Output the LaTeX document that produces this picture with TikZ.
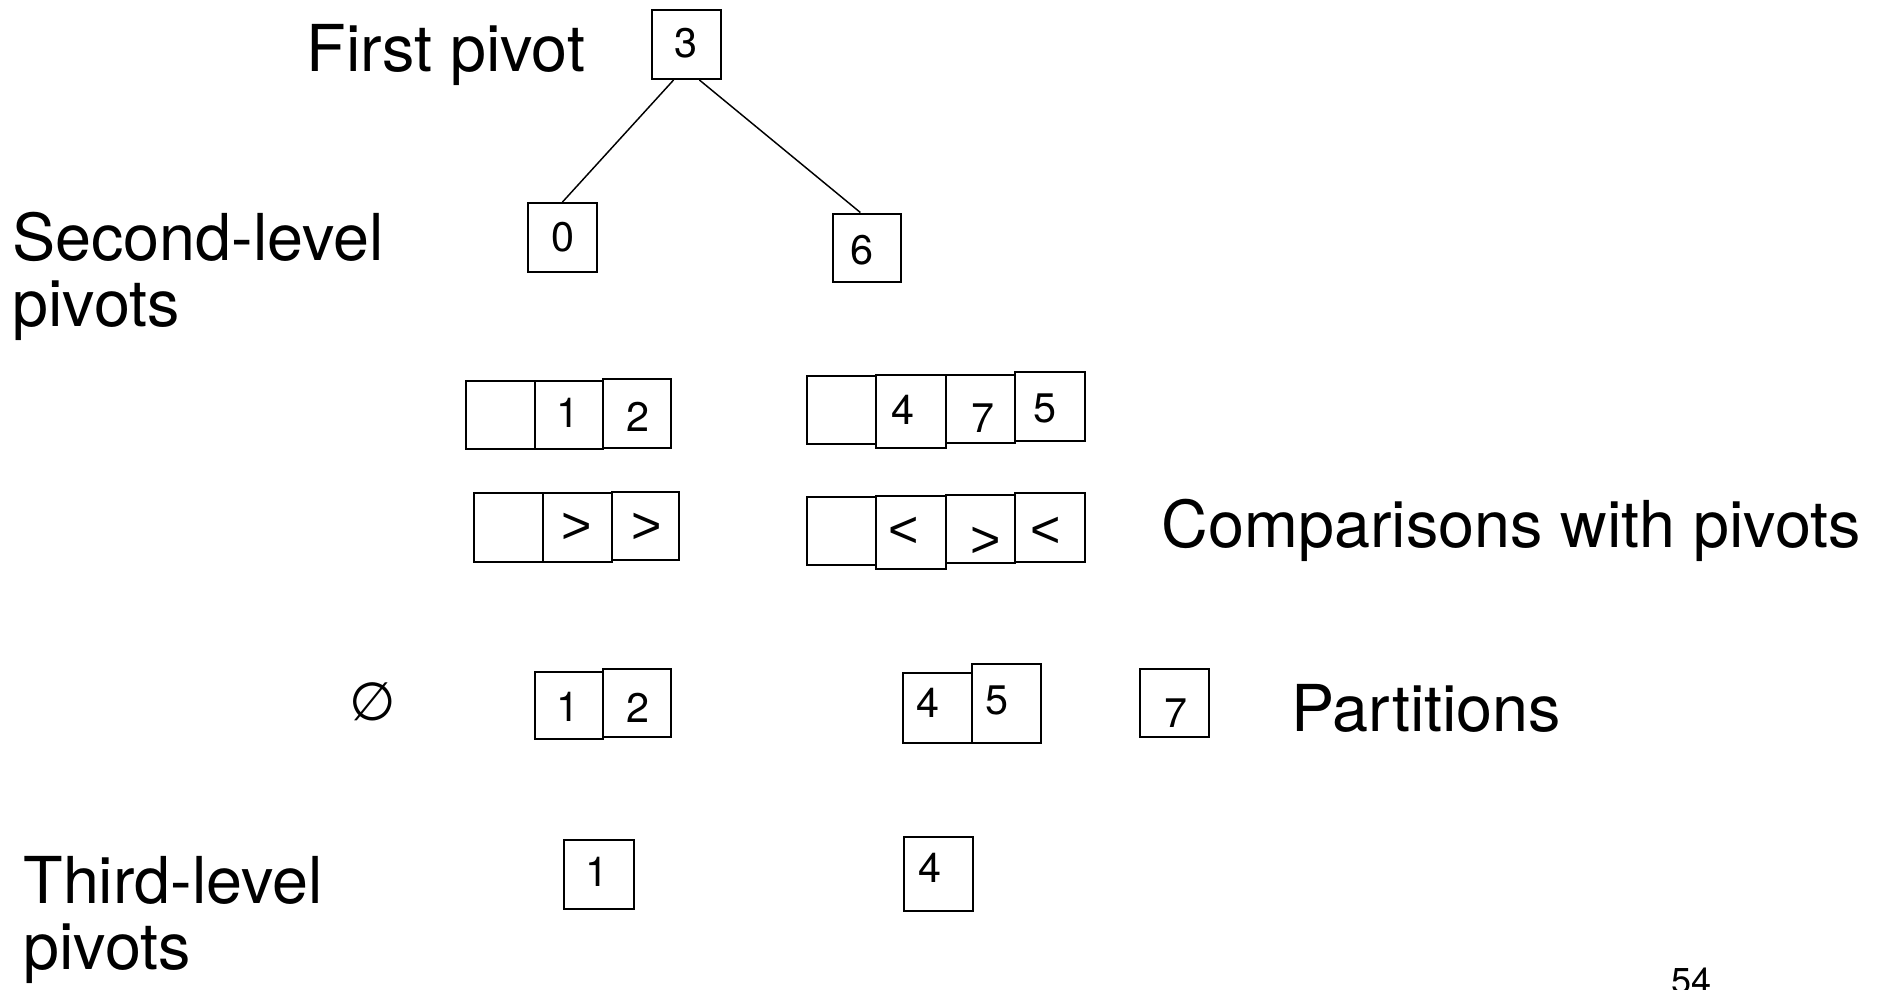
\documentclass[tikz,border=0pt]{standalone}
\usepackage{fontspec}
\setmainfont{TeX Gyre Heros}
\newfontfamily\symfont{DejaVu Sans}
\newfontfamily\relfont{Liberation Sans}

\tikzset{every picture/.style={line width=0.75pt}}
\tikzset{
  cell/.style={draw, line width=1.5pt, inner sep=0pt, minimum width=51.75pt, minimum height=51.75pt},
  num/.style={inner sep=0pt, font=\fontsize{31}{36}\selectfont},
  rel/.style={inner sep=0pt, font=\relfont\fontsize{39}{44}\selectfont},
  caption/.style={anchor=base west, inner sep=0pt, align=left, font=\fontsize{48.5}{49.5}\selectfont}
  ,edge/.style={line width=1.1pt}
}

\begin{document}
\begin{tikzpicture}[x=0.75pt,y=0.75pt,yscale=-1,xscale=1]
\useasboundingbox (0,0) rectangle (1877,989);

%Shape: Square (first pivot)
\node[cell] (p3) at (686.5,44.5) {};
\node[num] (p3t) at (686,43) {3};
%Shape: Square (second level)
\node[cell] (p0) at (562.5,237.5) {};
\node[num] (p0t) at (562.5,237) {0};
\node[cell, minimum width=51pt, minimum height=51pt] (p6) at (866.5,247.5) {};
\node[num] (p6t) at (862,250) {6};

%Straight Lines
\draw[edge] (p3.250) -- (p0.north);
%Straight Lines
\draw[edge] (p3.290) -- (p6.100);

%Shape: Rectangles (left subarray)
\node[cell, minimum height=51pt] (a1) at (500.5,415) {};
\node[cell, minimum width=51pt, minimum height=51pt] (b1) at (569,415) {};
\node[cell, minimum width=51pt] (c1) at (637,413.5) {};
\node[num] (b1t) at (568,413) {1};
\node[num] (c1t) at (638,417) {2};

%Shape: Rectangles (right subarray)
\node[cell, minimum height=51pt] (d1) at (841.5,410) {};
\node[cell, minimum width=52.5pt, minimum height=54.75pt] (e1) at (911,411.5) {};
\node[cell, minimum height=51pt] (f1) at (980.5,409) {};
\node[cell, minimum width=52.5pt] (g1) at (1050,406.5) {};
\node[num] (e1t) at (903,410) {4};
\node[num] (f1t) at (983,418) {7};
\node[num] (g1t) at (1045,408) {5};

%Shape: Rectangles (left comparisons)
\node[cell] (a2) at (508.5,527.5) {};
\node[cell] (b2) at (577.5,527.5) {};
\node[cell, minimum width=50.25pt, minimum height=51pt] (c2) at (645.5,526) {};
\node[rel] (b2t) at (577,528) {>};
\node[rel] (c2t) at (647,528) {>};

%Shape: Rectangles (right comparisons)
\node[cell, minimum height=51pt] (d2) at (841.5,531) {};
\node[cell, minimum width=52.5pt, minimum height=54.75pt] (e2) at (911,532.5) {};
\node[cell, minimum height=51pt] (f2) at (980.5,529) {};
\node[cell, minimum width=52.5pt] (g2) at (1050,527.5) {};
\node[rel] (e2t) at (904,532) {<};
\node[rel] (f2t) at (986,542) {>};
\node[rel] (g2t) at (1046,532) {<};

% Text Node
\node[inner sep=0pt, font=\symfont\fontsize{40}{44}\selectfont] (empty) at (373,701.5) {∅};

%Shape: Rectangles (partitions)
\node[cell, minimum width=51pt, minimum height=50.25pt] (b3) at (569,705.5) {};
\node[cell, minimum width=51pt, minimum height=51pt] (c3) at (637,703) {};
\node[num] (b3t) at (568,707) {1};
\node[num] (c3t) at (638,708) {2};
\node[cell, minimum height=52.5pt] (e3) at (937.5,708) {};
\node[cell, minimum height=59.25pt] (f3) at (1006.5,703.5) {};
\node[num] (e3t) at (928,703) {4};
\node[num] (f3t) at (997,700) {5};
\node[cell, minimum height=51pt] (h3) at (1174.5,703) {};
\node[num] (h3t) at (1176,713) {7};

%Shape: Square (third level)
\node[cell, minimum width=52.5pt] (b4) at (599,874.5) {};
\node[num] (b4t) at (597,872) {1};
\node[cell, minimum height=55.5pt] (e4) at (938.5,874) {};
\node[num] (e4t) at (930,868) {4};

% Text Node
\node[caption] (first) at (306,71) {First pivot};
% Text Node (anchored on the second line)
\node[caption] (second) at (12,326) {Second-level\\pivots};
% Text Node
\node[caption] (compare) at (1161,547) {Comparisons with pivots};
% Text Node
\node[caption] (parts) at (1291,731) {Partitions};
% Text Node (anchored on the second line)
\node[caption] (third) at (23,969) {Third-level\\pivots};
% Text Node
\node[anchor=base west, inner sep=0pt, font=\fontsize{27}{30}\selectfont] (page) at (1671,993) {54};

\end{tikzpicture}
\end{document}
